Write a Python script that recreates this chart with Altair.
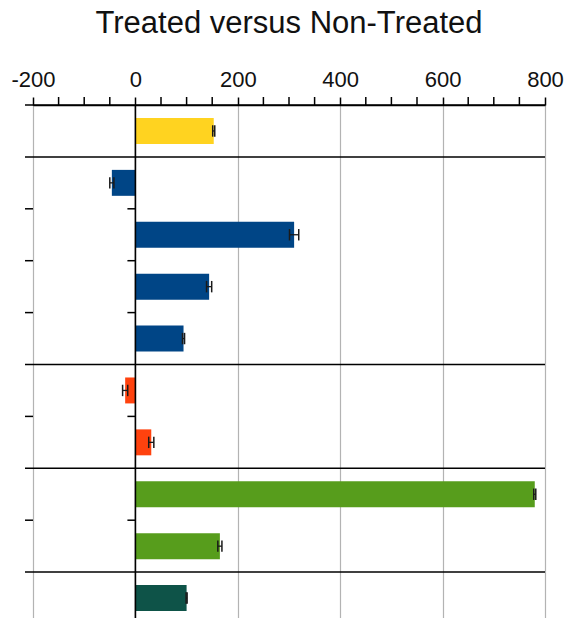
import altair as alt
import pandas as pd

title_text = "Treated versus Non-Treated"

# one bar per row, top to bottom
values = [153, -46, 310, 144, 94, -20, 31, 780, 165, 100]
errors = [2, 4, 9, 5, 2, 5, 5, 2, 4, 1]
groups = ["G1", "G2", "G2", "G2", "G2", "G3", "G3", "G4", "G4", "G5"]
group_colors = ["#FFD320", "#004586", "#FF420E", "#579D1C", "#0E5348"]
group_names = ["G1", "G2", "G3", "G4", "G5"]

major_ticks = [-200, 0, 200, 400, 600, 800]
minor_ticks = [-150, -100, -50, 50, 100, 150, 250, 300, 350,
               450, 500, 550, 650, 700, 750]

W, H = 512, 513
ROW_PX = 51.9          # height of one row in pixels
n = len(values)
y_max = H / ROW_PX     # the last row runs past the bottom edge

rows = pd.DataFrame({
    "row": list(range(n)),
    "value": values,
    "err": errors,
    "group": groups,
})
rows["top"] = rows["row"] + 0.25
rows["bot"] = rows["row"] + 0.75
rows["mid"] = rows["row"] + 0.5
rows["base"] = 0
rows["lo"] = rows["value"] - rows["err"]
rows["hi"] = rows["value"] + rows["err"]
rows["cap0"] = rows["mid"] - 0.11
rows["cap1"] = rows["mid"] + 0.11

# row boundaries: between groups get a full line, inside a group a short tick
seps = [0] + [i for i in range(1, n) if groups[i] != groups[i - 1]]
inner = [i for i in range(1, n) if groups[i] == groups[i - 1]]

xscale = alt.Scale(domain=[-200, 800], nice=False, zero=False)
yscale = alt.Scale(domain=[0, y_max], reverse=True, nice=False, zero=False)
xaxis = alt.Axis(
    orient="top", values=major_ticks, title=None,
    grid=True, gridColor="#b3b3b3", gridWidth=1.2,
    tickSize=8, tickColor="#000000", tickWidth=1.5,
    domainColor="#000000", domainWidth=1.5,
    labelFont="Liberation Sans", labelFontSize=22, labelColor="#111111",
    labelPadding=6, labelFlush=False, labelOverlap=False,
    labelExpr="'' + datum.value",
)


def X(field):
    return alt.X(field, scale=xscale, axis=xaxis)


def Y(field):
    return alt.Y(field, scale=yscale, axis=None)


bars = alt.Chart(rows).mark_rect().encode(
    x=X("value:Q"), x2="base:Q",
    y=Y("top:Q"), y2="bot:Q",
    color=alt.Color("group:N", scale=alt.Scale(domain=group_names, range=group_colors), legend=None),
)

minor = alt.Chart(pd.DataFrame({"t": minor_ticks})).mark_rule(
    color="#000000", strokeWidth=1.5
).encode(x=X("t:Q"), y=alt.value(-8), y2=alt.value(0))

zero_line = alt.Chart(pd.DataFrame({"z": [0]})).mark_rule(
    color="#000000", strokeWidth=1.6
).encode(x=X("z:Q"))

separators = alt.Chart(pd.DataFrame({"b": seps})).mark_rule(
    color="#000000", strokeWidth=1.5
).encode(x=alt.value(-8), x2=alt.value(W), y=Y("b:Q"))

left_ticks = alt.Chart(pd.DataFrame({"b": inner})).mark_rule(
    color="#000000", strokeWidth=1.5
).encode(x=alt.value(-8), x2=alt.value(0), y=Y("b:Q"))

zero_ticks = alt.Chart(pd.DataFrame({"b": inner, "a": [-15.6] * len(inner), "z": [0] * len(inner)})).mark_rule(
    color="#000000", strokeWidth=1.5
).encode(x=X("a:Q"), x2="z:Q", y=Y("b:Q"))

err_line = alt.Chart(rows).mark_rule(color="#1a1a1a", strokeWidth=1.3).encode(
    x=X("lo:Q"), x2="hi:Q", y=Y("mid:Q")
)
err_cap_lo = alt.Chart(rows).mark_rule(color="#1a1a1a", strokeWidth=1.5).encode(
    x=X("lo:Q"), y=Y("cap0:Q"), y2="cap1:Q"
)
err_cap_hi = alt.Chart(rows).mark_rule(color="#1a1a1a", strokeWidth=1.5).encode(
    x=X("hi:Q"), y=Y("cap0:Q"), y2="cap1:Q"
)

chart = alt.layer(
    bars, minor, zero_line, separators, left_ticks, zero_ticks,
    err_line, err_cap_lo, err_cap_hi,
).properties(
    width=W, height=H,
    title=alt.TitleParams(
        title_text, font="Liberation Sans", fontSize=31, fontWeight="normal",
        color="#111111", anchor="middle", offset=28,
    ),
    autosize=alt.AutoSizeParams(type="none"),
    padding={"left": 33, "top": 105, "right": 23, "bottom": 0},
    background="#ffffff",
).configure_view(stroke=None)

chart.save("out.html", embed_options={"renderer": "svg", "actions": False})
